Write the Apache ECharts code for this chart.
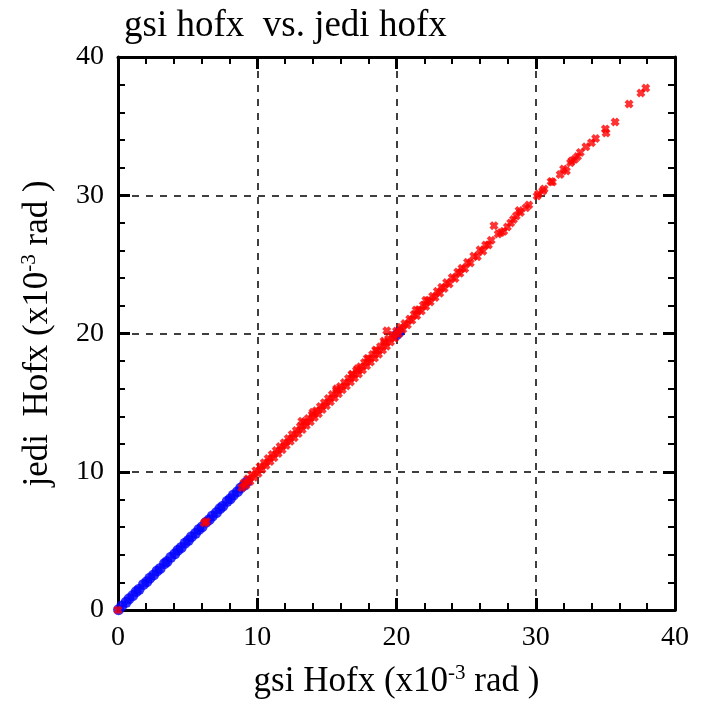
<!DOCTYPE html>
<html>
<head>
<meta charset="utf-8">
<script src="https://cdn.jsdelivr.net/npm/echarts@6/dist/echarts.min.js"></script>
<style>
  html, body { margin: 0; padding: 0; background: #fff; }
  #chart { width: 702px; height: 704px; }
</style>
</head>
<body>
<div id="chart"></div>
<script>
// axis ticks (x10^-3 rad)
var axisMin = 0, axisMax = 40, axisStep = 10;

// [gsi, jedi] pairs
var bluePts = [
  [0.04, 0.02], [0.27, 0.29], [0.58, 0.56], [0.79, 0.81], [1.06, 1.04], [1.31, 1.33],
  [1.52, 1.5], [1.83, 1.85], [2.07, 2.05], [2.29, 2.31], [2.56, 2.54], [2.81, 2.83],
  [3.03, 3.01], [3.34, 3.36], [3.52, 3.5], [3.79, 3.81], [4.08, 4.06], [4.31, 4.33],
  [4.54, 4.52], [4.82, 4.84], [5.06, 5.04], [5.28, 5.3], [5.57, 5.55], [5.81, 5.83],
  [6.04, 6.02], [6.33, 6.35], [6.55, 6.53], [6.78, 6.8], [7.07, 7.05], [7.32, 7.34],
  [7.53, 7.51], [7.84, 7.86], [8.06, 8.04], [8.29, 8.31], [8.58, 8.56], [8.81, 8.83],
  [9.04, 9.02], [9.27, 9.29], [20.0, 19.9], [20.2, 20.1]
];

var redPts = [
  [0.0, 0.0], [6.2, 6.3], [6.35, 6.4],
  [8.9, 8.85], [9.05, 9.2], [9.2, 9.02], [9.33, 9.5], [9.48, 9.3], [9.61, 9.78],
  [9.77, 9.6], [9.9, 10.08], [10.06, 9.88], [10.2, 10.38], [10.34, 10.17], [10.5, 10.66],
  [10.63, 10.45], [10.78, 10.96], [10.92, 10.74], [11.07, 11.25], [11.2, 11.02], [11.36, 11.53],
  [11.5, 11.32], [11.64, 11.82], [11.79, 11.6], [11.93, 12.1], [12.08, 11.9], [12.22, 12.4],
  [12.37, 12.2], [12.51, 12.7], [12.65, 12.46], [12.8, 12.98], [12.94, 12.76], [13.09, 13.27],
  [13.2, 13.65], [13.23, 13.05], [13.38, 13.56], [13.52, 13.34], [13.66, 13.85], [13.81, 13.62],
  [13.95, 14.13], [14.0, 14.3], [14.1, 13.92], [14.24, 14.42], [14.39, 14.2], [14.53, 14.72],
  [14.67, 14.5], [14.82, 15.0], [14.96, 14.78], [15.1, 15.3], [15.25, 15.06], [15.39, 15.58],
  [15.54, 15.35], [15.7, 16.0], [15.68, 15.87], [15.83, 15.64], [15.97, 16.16], [16.11, 15.93],
  [16.26, 16.45], [16.4, 16.21], [16.55, 16.74], [16.69, 16.5], [16.8, 17.05], [16.83, 17.02],
  [16.98, 16.78], [17.12, 17.32], [17.2, 17.45], [17.27, 17.07], [17.41, 17.6], [17.56, 17.36],
  [17.7, 17.9], [17.85, 17.66], [17.9, 18.2], [17.99, 18.18], [18.13, 17.93], [18.28, 18.48],
  [18.42, 18.22], [18.5, 18.8], [18.57, 18.76], [18.71, 18.5], [18.85, 19.05], [19.0, 18.8],
  [19.1, 19.45], [19.14, 19.33], [19.28, 19.08], [19.3, 20.2], [19.43, 19.62], [19.57, 19.38],
  [19.72, 19.9], [19.86, 19.66], [20.0, 20.18], [20.15, 19.96], [20.3, 20.45],
  [20.45, 20.3], [20.6, 20.72], [20.78, 20.62], [20.95, 21.05], [21.1, 20.95], [21.27, 21.38],
  [21.4, 21.7], [21.45, 21.28], [21.6, 21.72], [21.78, 21.62], [21.93, 22.05], [22.1, 22.4],
  [22.1, 21.95], [22.27, 22.38], [22.42, 22.28], [22.6, 22.7], [22.77, 22.6], [22.93, 23.05],
  [23.1, 22.92], [23.25, 23.35], [23.42, 23.25], [23.6, 23.68], [23.78, 23.58], [24.0, 24.05],
  [24.2, 23.98], [24.4, 24.45], [24.55, 24.35], [24.7, 24.72], [24.9, 24.68], [25.1, 25.15],
  [25.3, 25.1], [25.55, 25.6], [25.8, 25.55], [26.0, 26.05], [26.2, 25.95], [26.4, 26.4],
  [26.6, 26.4], [26.8, 26.75], [27.0, 27.8], [27.3, 27.2], [27.5, 27.3], [27.7, 27.4],
  [27.96, 27.7], [28.2, 28.0], [28.4, 28.25], [28.6, 28.5], [28.8, 28.9], [28.9, 28.75],
  [29.3, 29.1], [29.5, 29.3], [30.1, 29.95], [30.2, 30.1], [30.5, 30.3], [30.6, 30.45],
  [31.1, 31.0], [31.2, 30.95], [31.75, 31.5], [32.0, 31.9], [32.2, 31.75], [32.5, 32.35],
  [32.6, 32.5], [32.8, 32.6], [33.0, 32.8], [33.2, 33.1], [33.6, 33.5], [34.0, 33.8],
  [34.3, 34.1], [35.0, 34.8], [35.05, 34.5], [35.7, 35.3], [36.7, 36.6], [37.55, 37.4],
  [37.9, 37.75]
];

var crossPath = 'path://M0,3L3,0L5,2L7,0L10,3L8,5L10,7L7,10L5,8L3,10L0,7L2,5Z';
var serif = '"Liberation Serif", "DejaVu Serif", serif';

function makeAxis(pos, showLabels, name, nameGap) {
  var ax = {
    type: 'value',
    position: pos,
    min: axisMin,
    max: axisMax,
    interval: axisStep,
    axisLine: { show: true, onZero: false, lineStyle: { color: '#000', width: 3 } },
    axisTick: { show: true, inside: true, length: 12, lineStyle: { color: '#000', width: 3 } },
    minorTick: { show: true, splitNumber: 5, length: 7, lineStyle: { color: '#000', width: 2 } },
    axisLabel: { show: showLabels, color: '#000', fontFamily: serif, fontSize: 28, margin: 14 },
    splitLine: { show: false }
  };
  if (showLabels) {
    ax.splitLine = { show: true, lineStyle: { color: '#000', width: 1.5, type: [7, 7] } };
    ax.name = name;
    ax.nameLocation = 'middle';
    ax.nameGap = nameGap;
    ax.nameTextStyle = {
      color: '#000', fontFamily: serif, fontSize: 35,
      rich: { sup: { fontFamily: serif, fontSize: 21, verticalAlign: 'top', padding: [0, 0, 16, 0], color: '#000' } }
    };
  }
  return ax;
}

var chart = echarts.init(document.getElementById('chart'));
chart.setOption({
  animation: false,
  backgroundColor: '#fff',
  title: {
    text: 'gsi hofx  vs. jedi hofx',
    left: 119,
    top: 3,
    textStyle: { color: '#000', fontFamily: serif, fontSize: 37, fontWeight: 'normal' }
  },
  grid: { left: 118, right: 27, top: 57, bottom: 91, containLabel: false },
  xAxis: [
    makeAxis('bottom', true, 'gsi Hofx (x10{sup|-3} rad )', 53),
    makeAxis('top', false)
  ],
  yAxis: [
    makeAxis('left', true, 'jedi  Hofx (x10{sup|-3} rad )', 62),
    makeAxis('right', false)
  ],
  series: [
    {
      name: 'blue',
      type: 'scatter',
      xAxisIndex: 0,
      yAxisIndex: 0,
      symbol: 'circle',
      symbolSize: 11,
      itemStyle: { color: '#0000ff' },
      data: bluePts,
      z: 3
    },
    {
      name: 'red',
      type: 'scatter',
      xAxisIndex: 0,
      yAxisIndex: 0,
      symbol: crossPath,
      symbolSize: 9,
      itemStyle: { color: '#ff0000' },
      data: redPts,
      z: 4
    }
  ]
});
</script>
</body>
</html>
